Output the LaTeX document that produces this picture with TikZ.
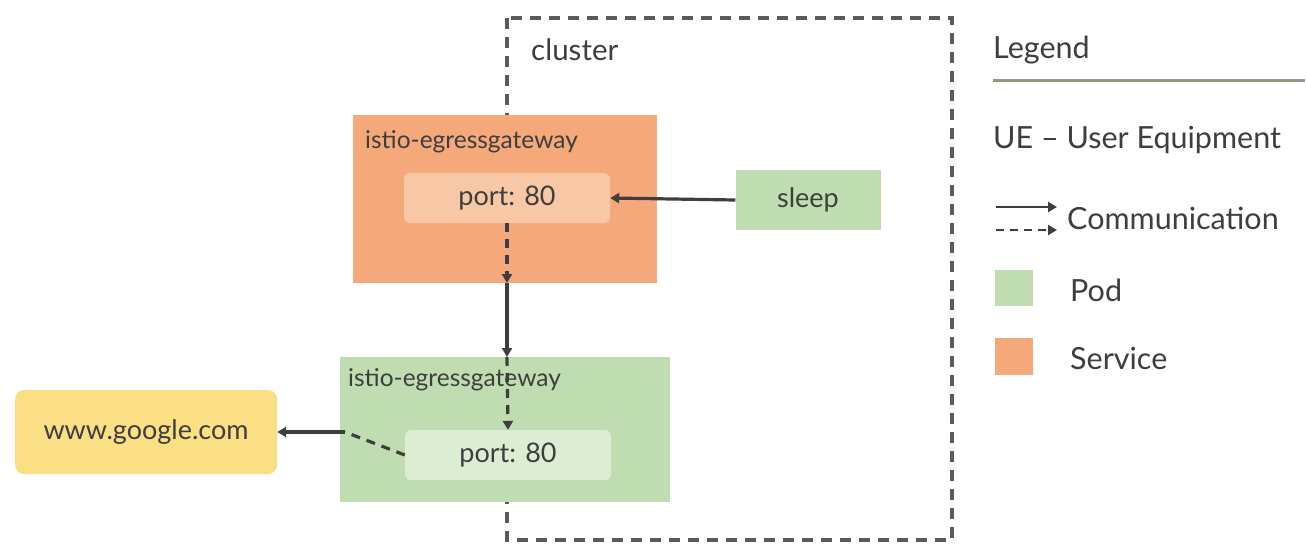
\documentclass[tikz,border=0pt]{standalone}
\usepackage{fontspec}
\setmainfont{Lato}
\usetikzlibrary{arrows.meta}
\definecolor{svcfill}{HTML}{F5A97A}
\definecolor{svcport}{HTML}{F8C8A6}
\definecolor{podfill}{HTML}{BFDDB1}
\definecolor{podport}{HTML}{DDEDD4}
\definecolor{webfill}{HTML}{FBDF85}
\definecolor{ink}{HTML}{3E3E3E}
\definecolor{rule}{HTML}{8C9C84}
\tikzset{
  box/.style={draw=none, inner sep=0pt, text=ink},
  svcbox/.style={box, fill=svcfill},
  podbox/.style={box, fill=podfill},
  portbox/.style={box, rounded corners=6pt},
  label/.style={inner sep=0pt, text=ink, anchor=west},
  legendtext/.style={label, font=\fontsize{30.5}{34}\selectfont},
  flow/.style={draw=ink, line width=3.2pt, -{Triangle[length=9pt,width=10pt]}},
  dflow/.style={flow, dash pattern=on 9pt off 7pt},
  clusterline/.style={draw=ink!85, line width=3.2pt, dash pattern=on 11pt off 8pt},
}
\begin{document}
\begin{tikzpicture}[x=1pt, y=-1pt, font=\fontsize{27}{31}\selectfont]
\useasboundingbox (0,0) rectangle (1307,544);
\fill[white] (0,0) rectangle (1307,544);

% cluster boundary
\draw[clusterline] (507,18) rectangle (952,540);
\node[label, font=\fontsize{29.5}{33}\selectfont] (cluster) at (531,50) {cluster};

% egress gateway service
\node[svcbox, minimum width=304pt, minimum height=168pt] (svc) at (505,199) {};
\node[label, font=\fontsize{24.5}{28}\selectfont] (svcname) at (365,142) {istio-egressgateway};
\node[portbox, fill=svcport, minimum width=206pt, minimum height=50pt] (svcp) at (507,198) {port: 80};

% sleep pod
\node[box, fill=podfill, minimum width=145pt, minimum height=60pt] (sleep) at (808,200) {sleep};

% egress gateway pod
\node[podbox, minimum width=330pt, minimum height=145pt] (pod) at (505,429.5) {};
\node[label, font=\fontsize{24.5}{28}\selectfont] (podname) at (348,380) {istio-egressgateway};
\node[portbox, fill=podport, minimum width=206pt, minimum height=50pt] (podp) at (508,455) {port: 80};

% external host
\node[box, fill=webfill, rounded corners=9pt, minimum width=262pt, minimum height=84pt] (web) at (146,432) {www.google.com};

\coordinate (svcout) at (507,283);
\coordinate (podin) at (507,357);
\coordinate (podout) at (345,432);

% traffic
\draw[flow] (sleep.west) -- (svcp.east);
\draw[dflow] (svcp.south) -- (svcout);
\draw[flow] (svcout) -- (podin);
\draw[dflow] (podin) -- (podp.north);
\draw[draw=ink, line width=3.2pt, dash pattern=on 9pt off 7pt] (podp.west) -- (podout);
\draw[flow] (podout) -- (web.east);

% legend
\node[legendtext] (legend) at (993,50) {Legend};
\draw[rule, line width=3pt] (993,80) -- (1305,80);
\node[legendtext] (ue) at (993,140) {UE – User Equipment};
\coordinate (ls1) at (996,207);
\coordinate (le1) at (1057,207);
\coordinate (ls2) at (996,230);
\coordinate (le2) at (1057,230);
\draw[flow, line width=2.4pt] (ls1) -- (le1);
\draw[dflow, line width=2.4pt, dash pattern=on 8pt off 6pt] (ls2) -- (le2);
\node[legendtext] (comm) at (1067,218) {Communication};
\node[box, fill=podfill, minimum width=38pt, minimum height=36pt] (podkey) at (1014,288) {};
\node[legendtext] (podtxt) at (1070,290) {Pod};
\node[box, fill=svcfill, minimum width=38pt, minimum height=37pt] (svckey) at (1014,356) {};
\node[legendtext] (svctxt) at (1070,358) {Service};
\end{tikzpicture}
\end{document}
